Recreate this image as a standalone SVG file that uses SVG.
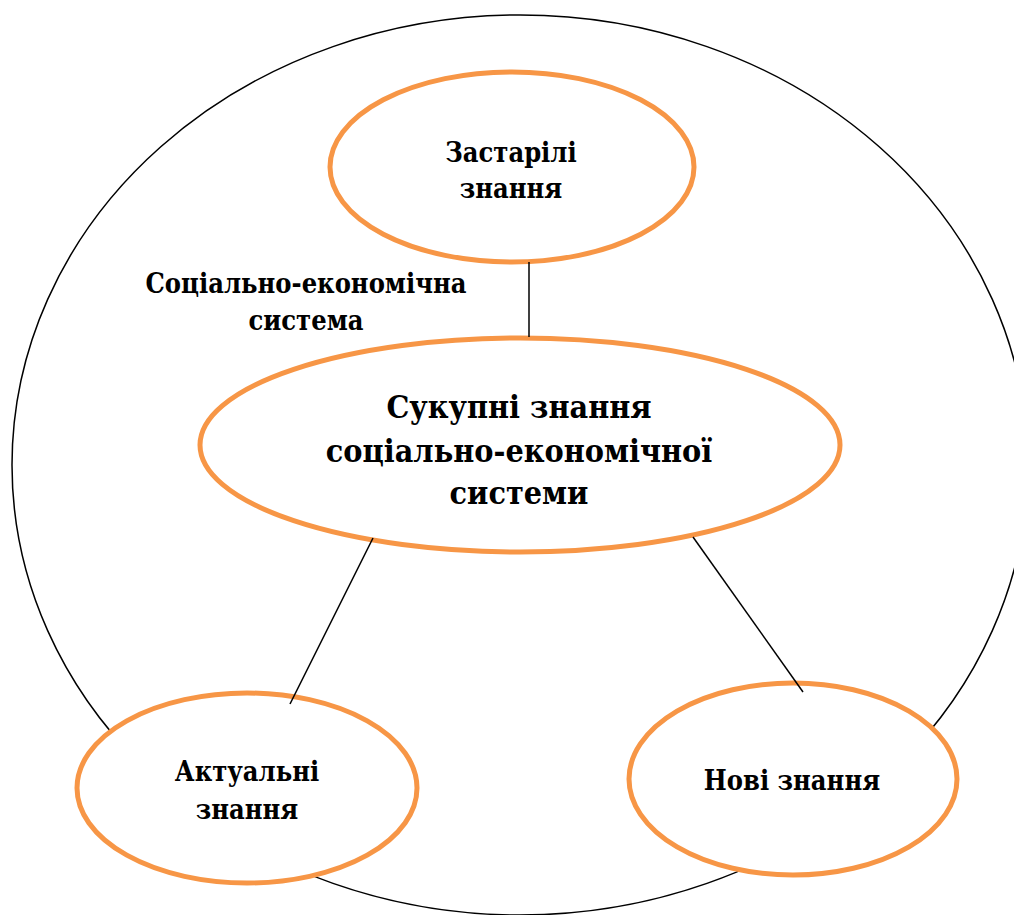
<svg xmlns="http://www.w3.org/2000/svg" width="1014" height="915" viewBox="0 0 1014 915">
<style>
.node{fill:#fff;stroke:#F79646;stroke-width:5}
text{font-family:'DejaVu Serif Condensed','DejaVu Serif','Liberation Serif',serif;font-stretch:condensed;font-weight:700;fill:#000;text-anchor:middle}
.s{font-size:27px}
.b{font-size:32px}
.c{stroke:#000;stroke-width:1.5;fill:none}
</style>
<rect width="1014" height="915" fill="#fff"/>
<g id="system">
<ellipse cx="520" cy="465" rx="508" ry="450" class="c"/>
<text class="s" x="306" y="293">Соціально-економічна</text>
<text class="s" x="306" y="330">система</text>
</g>
<g id="old">
<ellipse cx="512" cy="167" rx="182" ry="95" class="node"/>
<text class="s" x="511" y="162">Застарілі</text>
<text class="s" x="511" y="198">знання</text>
</g>
<g id="total">
<ellipse cx="520" cy="445" rx="320" ry="107" class="node"/>
<text class="b" x="519" y="418">Сукупні знання</text>
<text class="b" x="519" y="462">соціально-економічної</text>
<text class="b" x="519" y="504">системи</text>
</g>
<g id="actual">
<ellipse cx="247" cy="788" rx="170" ry="95" class="node"/>
<text class="s" x="247" y="781">Актуальні</text>
<text class="s" x="247" y="819">знання</text>
</g>
<g id="new">
<ellipse cx="793" cy="779" rx="164" ry="96" class="node"/>
<text class="s" x="792" y="790">Нові знання</text>
</g>
<g id="connectors">
<line x1="529" y1="262" x2="529" y2="337" class="c"/>
<line x1="373" y1="538" x2="290" y2="704" class="c"/>
<line x1="693" y1="537" x2="803" y2="692" class="c"/>
</g>
</svg>
